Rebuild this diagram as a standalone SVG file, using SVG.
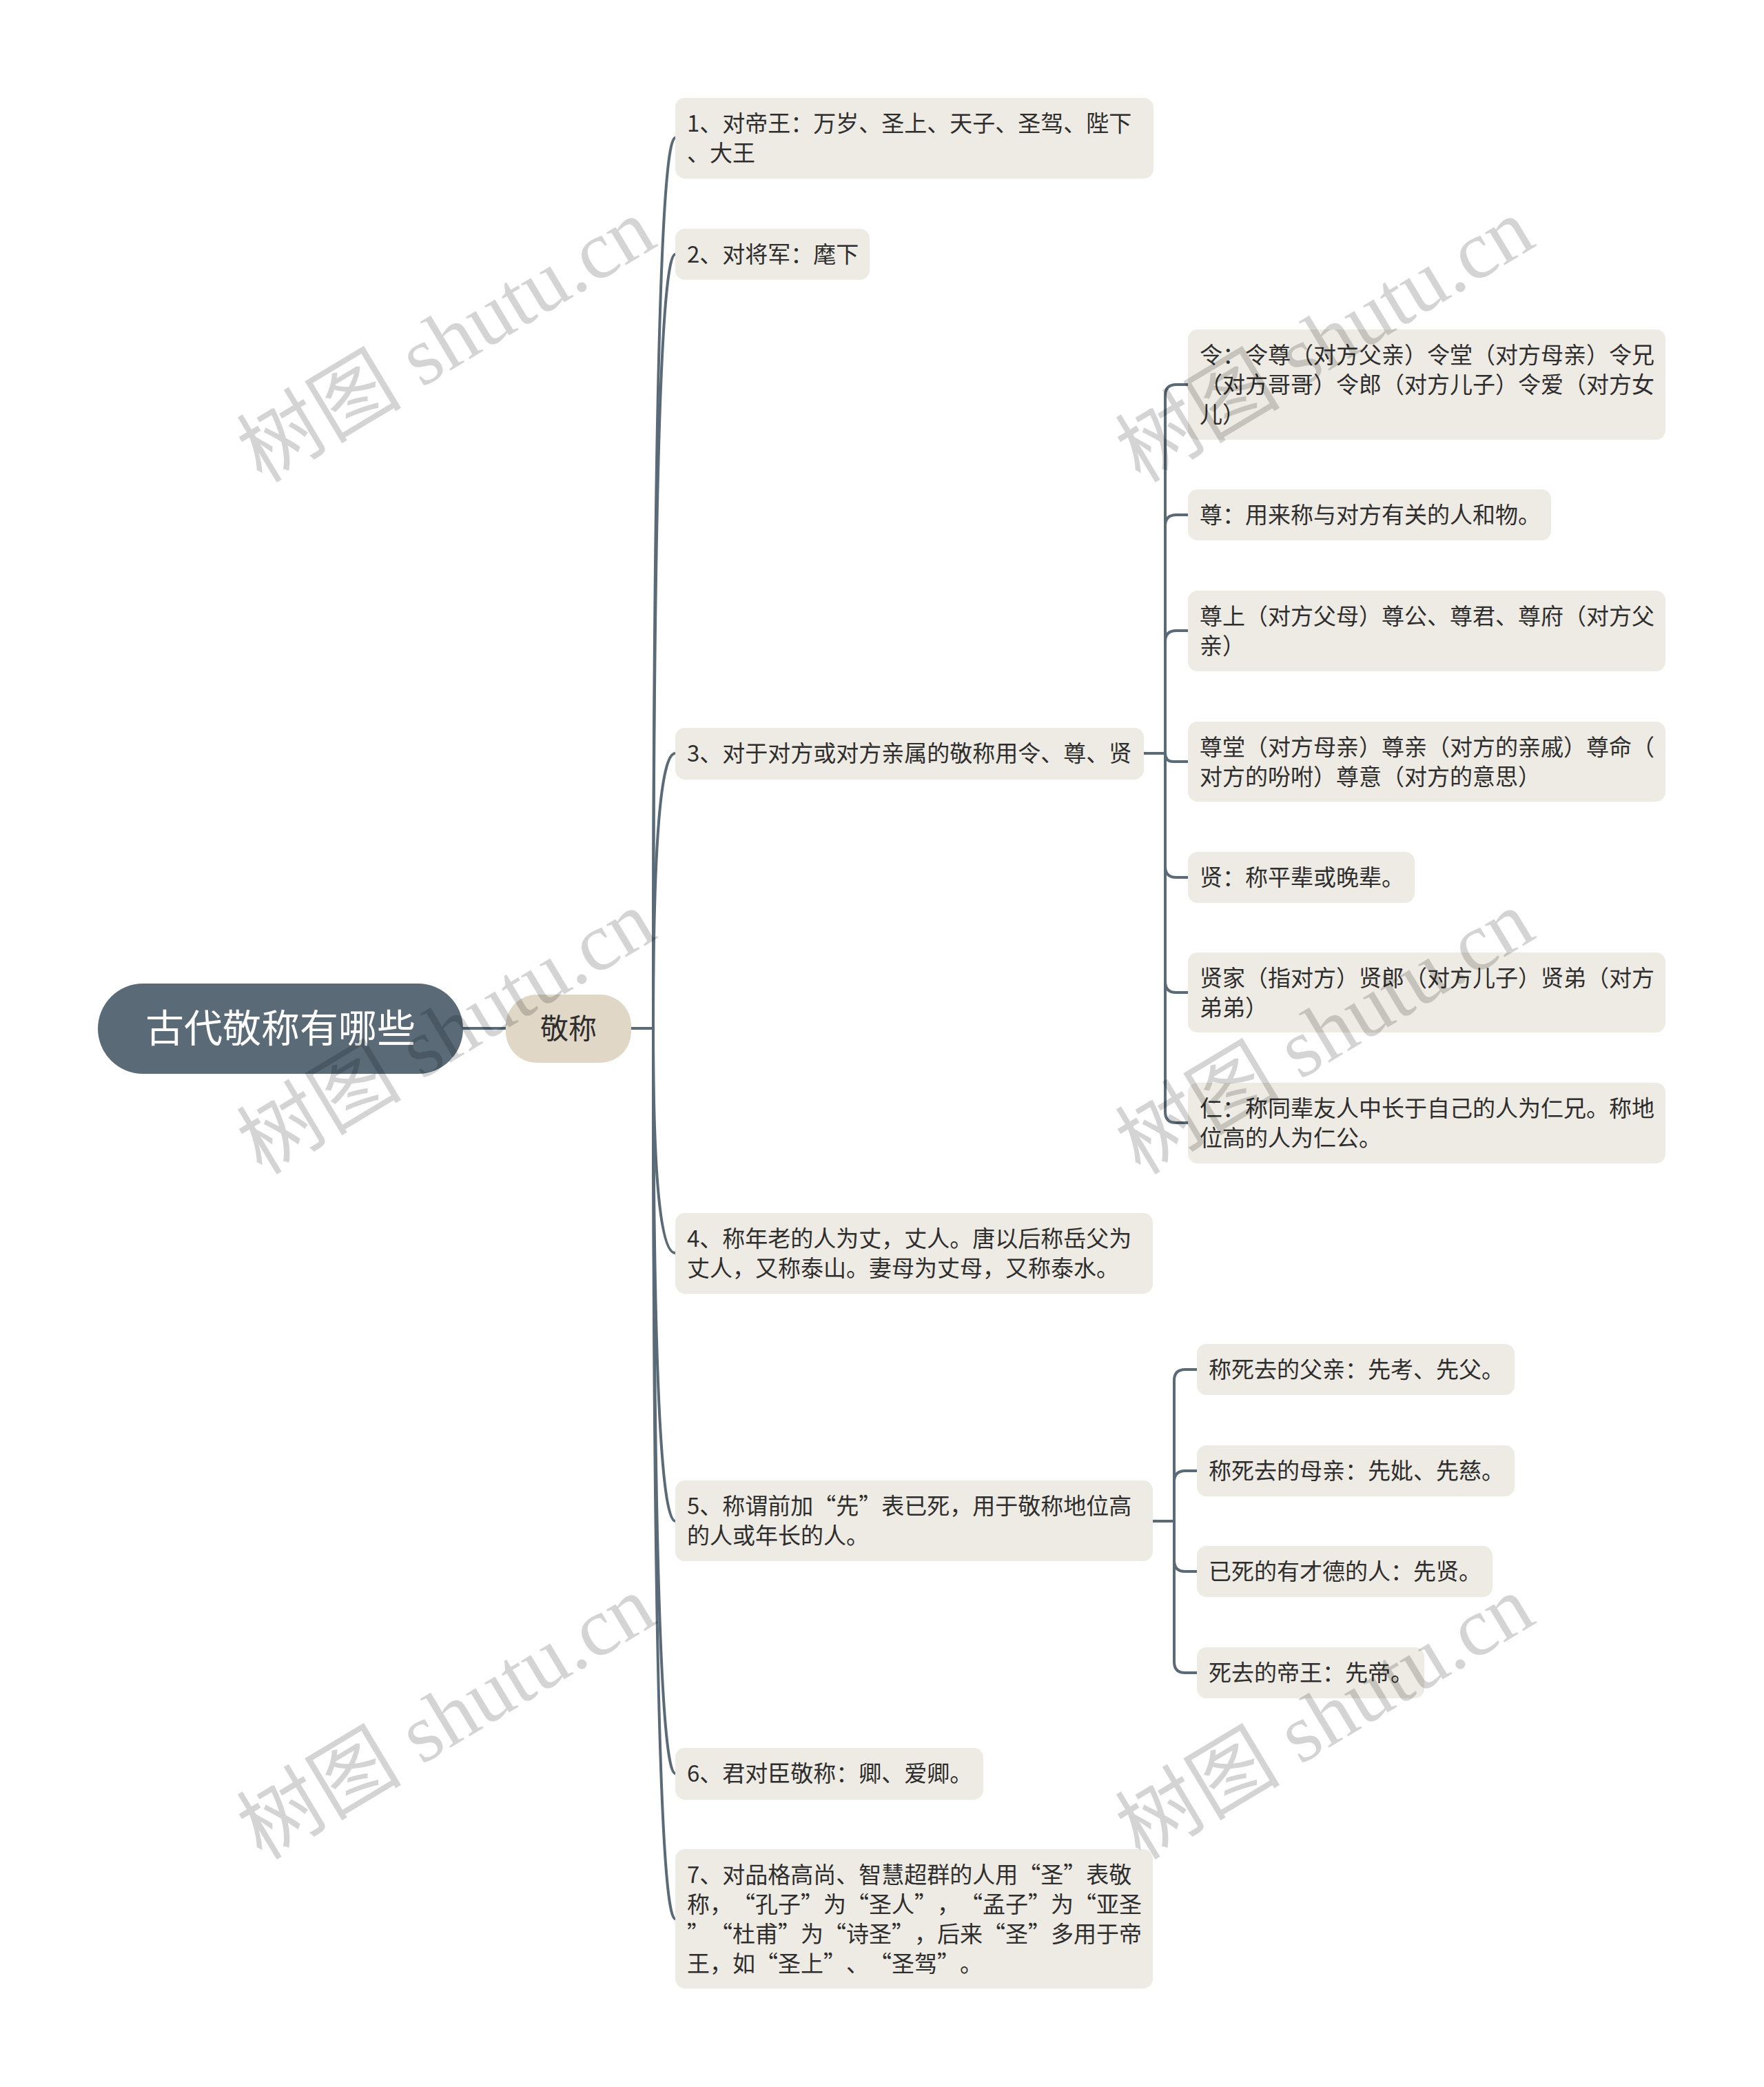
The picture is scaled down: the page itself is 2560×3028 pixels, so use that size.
<svg xmlns="http://www.w3.org/2000/svg" width="2560" height="3028" viewBox="0 0 2560 3028">
<style>
text{font-family:"Noto Sans CJK SC","Liberation Sans",sans-serif;text-spacing-trim:space-all;}
.box{fill:#eeebe4;}
.t{font-size:33px;fill:#2e2e2e;}
.ln{fill:none;stroke:#5a6a77;stroke-width:4;stroke-linecap:round;}
.wm{font-family:"Liberation Serif","Noto Sans CJK SC",serif;font-size:120px;fill:#000;fill-opacity:0.17;}
</style>
<rect width="2560" height="3028" fill="#ffffff"/>
<g id="connectors" class="ln">
<path d="M672 1492 L734 1492"/>
<path d="M916 1492 L948 1492"/>
<path d="M948 1492 Q948 200 980 200"/>
<path d="M948 1492 Q948 369 980 369"/>
<path d="M948 1492 Q948 1093 980 1093"/>
<path d="M948 1492 Q948 1818 980 1818"/>
<path d="M948 1492 Q948 2207 980 2207"/>
<path d="M948 1492 Q948 2573 980 2573"/>
<path d="M948 1492 Q948 2784 980 2784"/>
<path d="M1660 1093 L1691 1093"/>
<path d="M1691 1093 L1691 574 Q1691 558 1707 558 L1724 558"/>
<path d="M1691 1093 L1691 763 Q1691 747 1707 747 L1724 747"/>
<path d="M1691 1093 L1691 931 Q1691 915 1707 915 L1724 915"/>
<path d="M1691 1093 Q1691 1105 1703 1105 L1724 1105"/>
<path d="M1691 1093 L1691 1257 Q1691 1273 1707 1273 L1724 1273"/>
<path d="M1691 1093 L1691 1424 Q1691 1440 1707 1440 L1724 1440"/>
<path d="M1691 1093 L1691 1613 Q1691 1629 1707 1629 L1724 1629"/>
<path d="M1673 2207 L1704 2207"/>
<path d="M1704 2207 L1704 2003 Q1704 1987 1720 1987 L1737 1987"/>
<path d="M1704 2207 L1704 2150 Q1704 2134 1720 2134 L1737 2134"/>
<path d="M1704 2207 L1704 2264 Q1704 2280 1720 2280 L1737 2280"/>
<path d="M1704 2207 L1704 2411 Q1704 2427 1720 2427 L1737 2427"/>
</g>
<g id="root">
<rect x="142" y="1427" width="530" height="131" rx="65.5" fill="#5a6a77"/>
<text x="407" y="1512" font-size="56" fill="#ffffff" text-anchor="middle">古代敬称有哪些</text>
</g>
<g id="main">
<rect x="734" y="1443" width="182" height="99" rx="45" fill="#e0d7c7"/>
<text x="825" y="1507" font-size="41" fill="#2e2e2e" text-anchor="middle">敬称</text>
</g>
<g id="n1"><rect class="box" x="980" y="142" width="694" height="117" rx="14"/>
<text class="t" x="997" y="191">1、对帝王：万岁、圣上、天子、圣驾、陛下</text>
<text class="t" x="997" y="234">、大王</text></g>
<g id="n2"><rect class="box" x="980" y="332" width="282" height="74" rx="14"/>
<text class="t" x="997" y="381">2、对将军：麾下</text></g>
<g id="n3"><rect class="box" x="980" y="1056" width="680" height="75" rx="14"/>
<text class="t" x="997" y="1105">3、对于对方或对方亲属的敬称用令、尊、贤</text></g>
<g id="n3a"><rect class="box" x="1724" y="478" width="693" height="160" rx="14"/>
<text class="t" x="1741" y="527">令：令尊（对方父亲）令堂（对方母亲）令兄</text>
<text class="t" x="1741" y="570">（对方哥哥）令郎（对方儿子）令爱（对方女</text>
<text class="t" x="1741" y="613">儿）</text></g>
<g id="n3b"><rect class="box" x="1724" y="710" width="527" height="74" rx="14"/>
<text class="t" x="1741" y="759">尊：用来称与对方有关的人和物。</text></g>
<g id="n3c"><rect class="box" x="1724" y="857" width="693" height="117" rx="14"/>
<text class="t" x="1741" y="906">尊上（对方父母）尊公、尊君、尊府（对方父</text>
<text class="t" x="1741" y="949">亲）</text></g>
<g id="n3d"><rect class="box" x="1724" y="1047" width="693" height="116" rx="14"/>
<text class="t" x="1741" y="1096">尊堂（对方母亲）尊亲（对方的亲戚）尊命（</text>
<text class="t" x="1741" y="1139">对方的吩咐）尊意（对方的意思）</text></g>
<g id="n3e"><rect class="box" x="1724" y="1236" width="329" height="74" rx="14"/>
<text class="t" x="1741" y="1285">贤：称平辈或晚辈。</text></g>
<g id="n3f"><rect class="box" x="1724" y="1382" width="693" height="116" rx="14"/>
<text class="t" x="1741" y="1431">贤家（指对方）贤郎（对方儿子）贤弟（对方</text>
<text class="t" x="1741" y="1474">弟弟）</text></g>
<g id="n3g"><rect class="box" x="1724" y="1571" width="693" height="117" rx="14"/>
<text class="t" x="1741" y="1620">仁：称同辈友人中长于自己的人为仁兄。称地</text>
<text class="t" x="1741" y="1663">位高的人为仁公。</text></g>
<g id="n4"><rect class="box" x="980" y="1760" width="693" height="117" rx="14"/>
<text class="t" x="997" y="1809">4、称年老的人为丈，丈人。唐以后称岳父为</text>
<text class="t" x="997" y="1852">丈人，又称泰山。妻母为丈母，又称泰水。</text></g>
<g id="n5"><rect class="box" x="980" y="2148" width="693" height="117" rx="14"/>
<text class="t" x="997" y="2197">5、称谓前加“先”表已死，用于敬称地位高</text>
<text class="t" x="997" y="2240">的人或年长的人。</text></g>
<g id="n5a"><rect class="box" x="1737" y="1950" width="461" height="74" rx="14"/>
<text class="t" x="1754" y="1999">称死去的父亲：先考、先父。</text></g>
<g id="n5b"><rect class="box" x="1737" y="2097" width="461" height="74" rx="14"/>
<text class="t" x="1754" y="2146">称死去的母亲：先妣、先慈。</text></g>
<g id="n5c"><rect class="box" x="1737" y="2243" width="429" height="74" rx="14"/>
<text class="t" x="1754" y="2292">已死的有才德的人：先贤。</text></g>
<g id="n5d"><rect class="box" x="1737" y="2390" width="330" height="74" rx="14"/>
<text class="t" x="1754" y="2439">死去的帝王：先帝。</text></g>
<g id="n6"><rect class="box" x="980" y="2536" width="447" height="75" rx="14"/>
<text class="t" x="997" y="2585">6、君对臣敬称：卿、爱卿。</text></g>
<g id="n7"><rect class="box" x="980" y="2683" width="693" height="202" rx="14"/>
<text class="t" x="997" y="2732">7、对品格高尚、智慧超群的人用“圣”表敬</text>
<text class="t" x="997" y="2775">称，“孔子”为“圣人”，“孟子”为“亚圣</text>
<text class="t" x="997" y="2818">”“杜甫”为“诗圣”，后来“圣”多用于帝</text>
<text class="t" x="997" y="2861">王，如“圣上”、“圣驾”。</text></g>
<g id="watermarks">
<text class="wm" transform="translate(380 702) rotate(-31)">树图 shutu.cn</text>
<text class="wm" transform="translate(1655 702) rotate(-31)">树图 shutu.cn</text>
<text class="wm" transform="translate(380 1706) rotate(-31)">树图 shutu.cn</text>
<text class="wm" transform="translate(1655 1706) rotate(-31)">树图 shutu.cn</text>
<text class="wm" transform="translate(380 2700) rotate(-31)">树图 shutu.cn</text>
<text class="wm" transform="translate(1655 2700) rotate(-31)">树图 shutu.cn</text>
</g>
</svg>
